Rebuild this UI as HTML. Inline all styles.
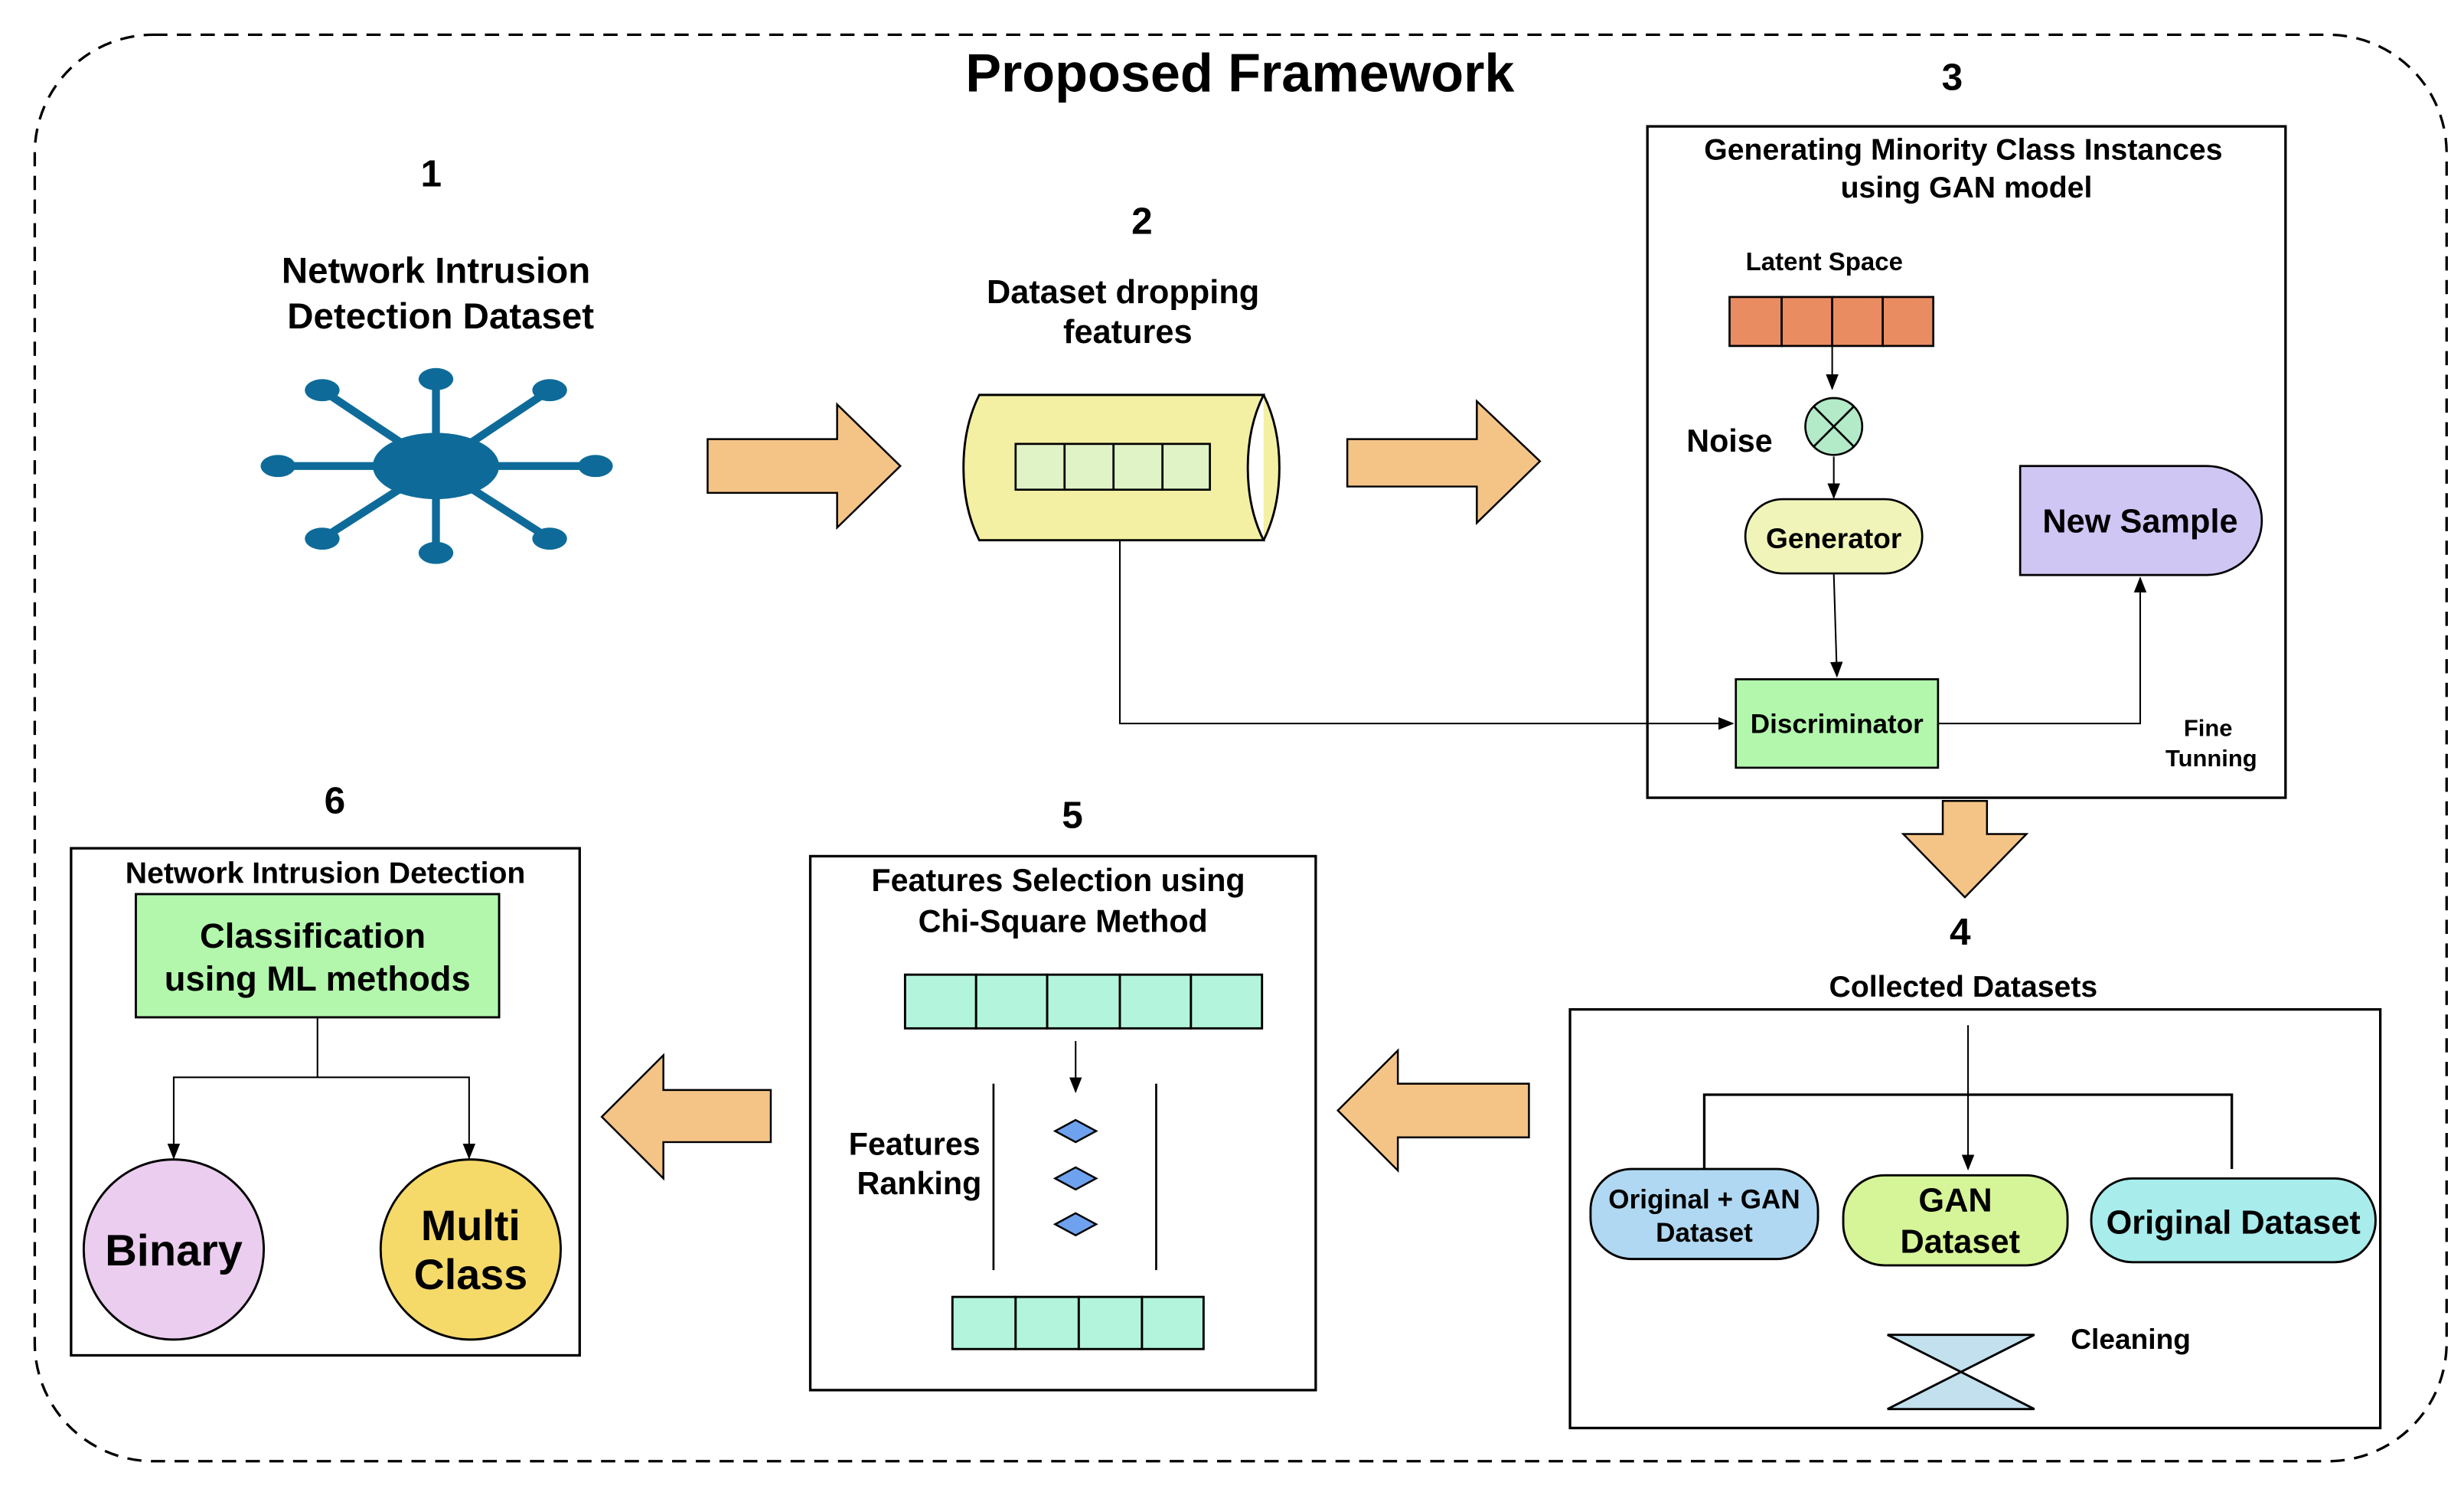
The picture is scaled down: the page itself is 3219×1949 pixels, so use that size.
<!DOCTYPE html>
<html><head><meta charset="utf-8"><style>
html,body{margin:0;padding:0;background:#fff;}
svg{display:block;}
text{font-family:"Liberation Sans",Arial,sans-serif;font-weight:bold;fill:#000;}
</style></head><body>
<svg width="3219" height="1949" viewBox="0 0 1560 944.5" preserveAspectRatio="none" xmlns="http://www.w3.org/2000/svg">
<defs>
<marker id="ah" markerWidth="10" markerHeight="10" refX="9" refY="5" orient="auto" markerUnits="userSpaceOnUse"><path d="M0,1 L10,5 L0,9 Z" fill="#000"/></marker>
</defs>
<rect x="22" y="22" width="1527" height="903" rx="75" fill="none" stroke="#000" stroke-width="1.6" stroke-dasharray="9,6"/>
<text x="785" y="58" font-size="34" text-anchor="middle">Proposed Framework</text>

<!-- 1 -->
<text x="273" y="118" font-size="24" text-anchor="middle">1</text>
<text x="276" y="179" font-size="23" text-anchor="middle">Network Intrusion</text>
<text x="279" y="208" font-size="23" text-anchor="middle">Detection Dataset</text>
<g stroke="#0e6b99" stroke-width="5" fill="#0e6b99">
<line x1="276" y1="295" x2="276" y2="240"/><line x1="276" y1="295" x2="276" y2="350"/>
<line x1="276" y1="295" x2="176" y2="295"/><line x1="276" y1="295" x2="377" y2="295"/>
<line x1="276" y1="295" x2="204" y2="247"/><line x1="276" y1="295" x2="348" y2="247"/>
<line x1="276" y1="295" x2="204" y2="341"/><line x1="276" y1="295" x2="348" y2="341"/>
<ellipse cx="276" cy="295" rx="40" ry="21" stroke="none"/>
<ellipse cx="276" cy="240" rx="11" ry="7" stroke="none"/><ellipse cx="276" cy="350" rx="11" ry="7" stroke="none"/>
<ellipse cx="176" cy="295" rx="11" ry="7" stroke="none"/><ellipse cx="377" cy="295" rx="11" ry="7" stroke="none"/>
<ellipse cx="204" cy="247" rx="11" ry="7" stroke="none"/><ellipse cx="348" cy="247" rx="11" ry="7" stroke="none"/>
<ellipse cx="204" cy="341" rx="11" ry="7" stroke="none"/><ellipse cx="348" cy="341" rx="11" ry="7" stroke="none"/>
</g>

<!-- big arrows -->
<path d="M448,278 L530,278 L530,256 L570,295 L530,334 L530,312 L448,312 Z" fill="#f4c487" stroke="#000" stroke-width="1.2"/>
<path d="M853,278 L935,278 L935,254 L975,292 L935,331 L935,308 L853,308 Z" fill="#f4c487" stroke="#000" stroke-width="1.2"/>
<path d="M1230,507 L1258,507 L1258,528 L1283,528 L1244,568 L1205,528 L1230,528 Z" fill="#f4c487" stroke="#000" stroke-width="1.2"/>
<path d="M968,686 L968,720 L885,720 L885,741 L847,703 L885,665 L885,686 Z" fill="#f4c487" stroke="#000" stroke-width="1.2"/>
<path d="M488,690 L488,723 L420,723 L420,746 L381,707 L420,668 L420,690 Z" fill="#f4c487" stroke="#000" stroke-width="1.2"/>

<!-- 2 -->
<text x="723" y="148" font-size="24" text-anchor="middle">2</text>
<text x="711" y="192" font-size="21" text-anchor="middle">Dataset dropping</text>
<text x="714" y="217" font-size="21" text-anchor="middle">features</text>
<path d="M620,250 L800,250 Q790,270 790,296 Q790,322 800,342 L620,342 Q610,322 610,296 Q610,270 620,250 Z" fill="#f3f0a3" stroke="#000" stroke-width="1.4"/>
<path d="M800,250 Q810,270 810,296 Q810,322 800,342" fill="#f3f0a3" stroke="#000" stroke-width="1.4"/>
<g fill="#e0f3c6" stroke="#000" stroke-width="1.3">
<rect x="643" y="281" width="31" height="29"/><rect x="674" y="281" width="31" height="29"/><rect x="705" y="281" width="31" height="29"/><rect x="736" y="281" width="30" height="29"/>
</g>
<polyline points="709,342 709,458 1097,458" fill="none" stroke="#000" stroke-width="1" marker-end="url(#ah)"/>

<!-- 3 -->
<text x="1236" y="57" font-size="24" text-anchor="middle">3</text>
<rect x="1043" y="80" width="404" height="425" fill="none" stroke="#000" stroke-width="1.6"/>
<text x="1243" y="101" font-size="19" text-anchor="middle">Generating Minority Class Instances</text>
<text x="1245" y="125" font-size="19" text-anchor="middle">using GAN model</text>
<text x="1155" y="171" font-size="16" text-anchor="middle">Latent Space</text>
<g fill="#ea8c62" stroke="#000" stroke-width="1.3">
<rect x="1095" y="188" width="33" height="31"/><rect x="1128" y="188" width="32" height="31"/><rect x="1160" y="188" width="32" height="31"/><rect x="1192" y="188" width="32" height="31"/>
</g>
<line x1="1160" y1="219" x2="1160" y2="246" stroke="#000" stroke-width="1" marker-end="url(#ah)"/>
<circle cx="1161" cy="270" r="18" fill="#b3ebc8" stroke="#000" stroke-width="1.3"/>
<line x1="1148" y1="257" x2="1174" y2="283" stroke="#000" stroke-width="1.3"/><line x1="1174" y1="257" x2="1148" y2="283" stroke="#000" stroke-width="1.3"/>
<text x="1095" y="286" font-size="20" text-anchor="middle">Noise</text>
<line x1="1161" y1="289" x2="1161" y2="315" stroke="#000" stroke-width="1" marker-end="url(#ah)"/>
<rect x="1105" y="316" width="112" height="47" rx="23.5" fill="#f0f4b8" stroke="#000" stroke-width="1.3"/>
<text x="1161" y="347" font-size="18" text-anchor="middle">Generator</text>
<line x1="1161" y1="363" x2="1163" y2="428" stroke="#000" stroke-width="1" marker-end="url(#ah)"/>
<rect x="1099" y="430" width="128" height="56" fill="#b3f7ad" stroke="#000" stroke-width="1.3"/>
<text x="1163" y="464" font-size="17" text-anchor="middle">Discriminator</text>
<polyline points="1227,458 1355,458 1355,366" fill="none" stroke="#000" stroke-width="1" marker-end="url(#ah)"/>
<path d="M1279,295 L1397,295 A35,34.5 0 0 1 1397,364 L1279,364 Z" fill="#d0c6f4" stroke="#000" stroke-width="1.3"/>
<text x="1355" y="337" font-size="21" text-anchor="middle">New Sample</text>
<text x="1398" y="466" font-size="15" text-anchor="middle">Fine</text>
<text x="1400" y="485" font-size="15" text-anchor="middle">Tunning</text>

<!-- 4 -->
<text x="1241" y="598" font-size="24" text-anchor="middle">4</text>
<text x="1243" y="631" font-size="19" text-anchor="middle">Collected Datasets</text>
<rect x="994" y="639" width="513" height="265" fill="none" stroke="#000" stroke-width="1.6"/>
<line x1="1246" y1="649" x2="1246" y2="740" stroke="#000" stroke-width="1" marker-end="url(#ah)"/>
<polyline points="1079,741 1079,693 1413,693 1413,740" fill="none" stroke="#000" stroke-width="1.6"/>
<rect x="1007" y="740" width="144" height="57" rx="26" fill="#b0d8f2" stroke="#000" stroke-width="1.4"/>
<text x="1079" y="765" font-size="17" text-anchor="middle">Original + GAN</text>
<text x="1079" y="786" font-size="17" text-anchor="middle">Dataset</text>
<rect x="1167" y="744" width="142" height="57" rx="26" fill="#d6f598" stroke="#000" stroke-width="1.4"/>
<text x="1238" y="767" font-size="21" text-anchor="middle">GAN</text>
<text x="1241" y="793" font-size="21" text-anchor="middle">Dataset</text>
<rect x="1324" y="746" width="180" height="53" rx="26" fill="#a8ecec" stroke="#000" stroke-width="1.4"/>
<text x="1414" y="781" font-size="21" text-anchor="middle">Original Dataset</text>
<path d="M1195,845 L1288,845 L1195,892 L1288,892 Z" fill="#c2e0ee" stroke="#000" stroke-width="1.4"/>
<text x="1349" y="854" font-size="18" text-anchor="middle">Cleaning</text>

<!-- 5 -->
<text x="679" y="524" font-size="24" text-anchor="middle">5</text>
<rect x="513" y="542" width="320" height="338" fill="none" stroke="#000" stroke-width="1.6"/>
<text x="670" y="564" font-size="20" text-anchor="middle">Features Selection using</text>
<text x="673" y="590" font-size="20" text-anchor="middle">Chi-Square Method</text>
<g fill="#b3f5dc" stroke="#000" stroke-width="1.4">
<rect x="573" y="617" width="45" height="34"/><rect x="618" y="617" width="45" height="34"/><rect x="663" y="617" width="46" height="34"/><rect x="709" y="617" width="45" height="34"/><rect x="754" y="617" width="45" height="34"/>
</g>
<line x1="681" y1="659" x2="681" y2="691" stroke="#000" stroke-width="1" marker-end="url(#ah)"/>
<line x1="629" y1="686" x2="629" y2="804" stroke="#000" stroke-width="1.3"/>
<line x1="732" y1="686" x2="732" y2="804" stroke="#000" stroke-width="1.3"/>
<g fill="#6ea2ee" stroke="#000" stroke-width="1.2">
<path d="M681,709 L694,716 L681,723 L668,716 Z"/><path d="M681,739 L694,746 L681,753 L668,746 Z"/><path d="M681,768 L694,775 L681,782 L668,775 Z"/>
</g>
<text x="579" y="731" font-size="20" text-anchor="middle">Features</text>
<text x="582" y="756" font-size="20" text-anchor="middle">Ranking</text>
<g fill="#b3f5dc" stroke="#000" stroke-width="1.4">
<rect x="603" y="821" width="40" height="33"/><rect x="643" y="821" width="40" height="33"/><rect x="683" y="821" width="40" height="33"/><rect x="723" y="821" width="39" height="33"/>
</g>

<!-- 6 -->
<text x="212" y="515" font-size="24" text-anchor="middle">6</text>
<rect x="45" y="537" width="322" height="321" fill="none" stroke="#000" stroke-width="1.6"/>
<text x="206" y="559" font-size="19" text-anchor="middle">Network Intrusion Detection</text>
<rect x="86" y="566" width="230" height="78" fill="#b3f7ad" stroke="#000" stroke-width="1.4"/>
<text x="198" y="600" font-size="22" text-anchor="middle">Classification</text>
<text x="201" y="627" font-size="22" text-anchor="middle">using ML methods</text>
<line x1="201" y1="644" x2="201" y2="682" stroke="#000" stroke-width="1"/>
<polyline points="110,733 110,682 297,682 297,733" fill="none" stroke="#000" stroke-width="1" marker-end="url(#ah)"/>
<line x1="110" y1="682" x2="110" y2="733" stroke="#000" stroke-width="1" marker-end="url(#ah)"/>
<circle cx="110" cy="791" r="57" fill="#ebcdef" stroke="#000" stroke-width="1.4"/>
<text x="110" y="801" font-size="28" text-anchor="middle">Binary</text>
<circle cx="298" cy="791" r="57" fill="#f5da6a" stroke="#000" stroke-width="1.4"/>
<text x="298" y="785" font-size="27" text-anchor="middle">Multi</text>
<text x="298" y="816" font-size="27" text-anchor="middle">Class</text>
</svg>
</body></html>
